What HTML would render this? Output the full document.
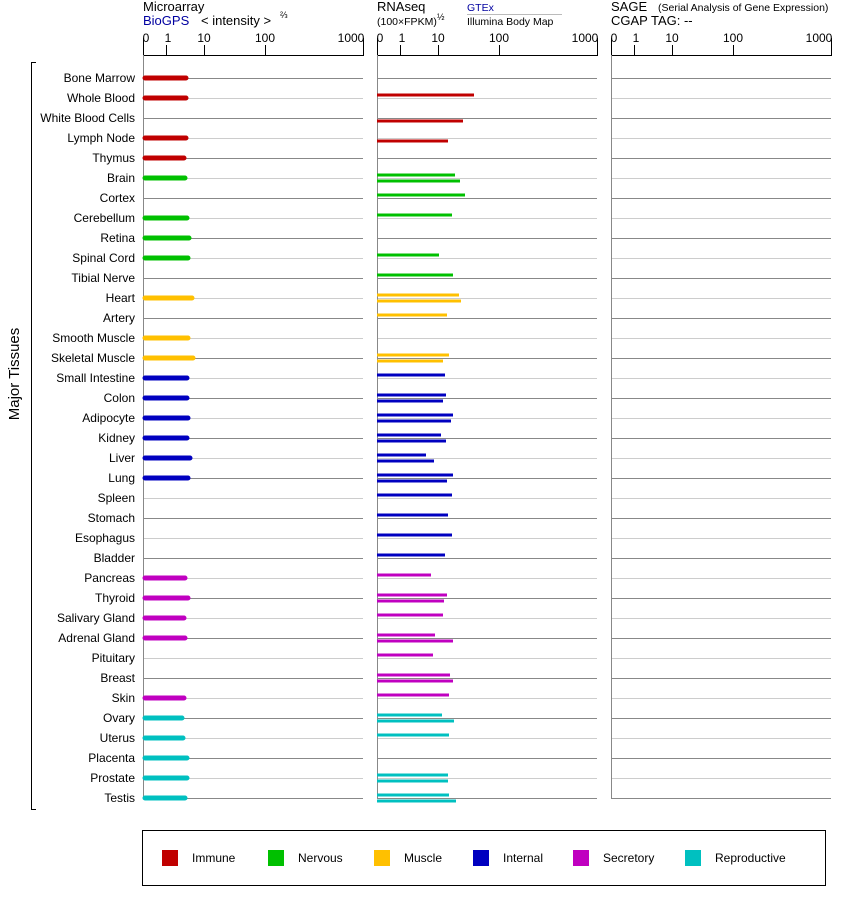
<!DOCTYPE html>
<html><head><meta charset="utf-8"><style>
body{margin:0;background:#fff}
svg{display:block;font-family:"Liberation Sans",Arial,sans-serif}
.l{font-size:12px;text-anchor:end;fill:#000}
.t{text-anchor:middle}
</style></head><body>
<svg width="842" height="900" viewBox="0 0 842 900" xmlns="http://www.w3.org/2000/svg">
<text x="143" y="11" font-size="13">Microarray</text>
<text x="143" y="25" font-size="13" fill="#0000a0">BioGPS</text>
<text x="201" y="25" font-size="13">&lt; intensity &gt;</text>
<text x="280" y="18" font-size="9">⅔</text>
<text x="377" y="11" font-size="13">RNAseq</text>
<text x="377" y="25" font-size="10.5">(100×FPKM)</text>
<text x="437" y="20" font-size="9">½</text>
<text x="467" y="11" font-size="10.5" fill="#0000a0">GTEx</text>
<line x1="467" y1="14.5" x2="562" y2="14.5" stroke="#bbb"/>
<text x="467" y="25" font-size="10.5">Illumina Body Map</text>
<text x="611" y="11" font-size="13">SAGE</text>
<text x="658" y="11" font-size="10.5">(Serial Analysis of Gene Expression)</text>
<text x="611" y="25" font-size="13">CGAP TAG:  --</text>
<g fill="none" stroke="#000">
<path d="M143.5 38V55.5H363.5V38M166.5 45V55.5M204.5 45V55.5M265.5 45V55.5"/>
<path d="M377.5 38V55.5H597.5V38M400.5 45V55.5M438.5 45V55.5M499.5 45V55.5"/>
<path d="M611.5 38V55.5H831.5V38M634.5 45V55.5M672.5 45V55.5M733.5 45V55.5"/>
</g>
<g class="t" font-size="12">
<text x="146" y="42">0</text><text x="168" y="42">1</text><text x="204" y="42">10</text><text x="265" y="42">100</text><text x="351" y="42">1000</text>
<text x="380" y="42">0</text><text x="402" y="42">1</text><text x="438" y="42">10</text><text x="499" y="42">100</text><text x="585" y="42">1000</text>
<text x="614" y="42">0</text><text x="636" y="42">1</text><text x="672" y="42">10</text><text x="733" y="42">100</text><text x="819" y="42">1000</text>
</g>
<g stroke-width="1">
<g stroke="#888">
<path d="M143 78.5H363M377 78.5H597M611 78.5H831M143 118.5H363M377 118.5H597M611 118.5H831M143 158.5H363M377 158.5H597M611 158.5H831M143 198.5H363M377 198.5H597M611 198.5H831M143 238.5H363M377 238.5H597M611 238.5H831M143 278.5H363M377 278.5H597M611 278.5H831M143 318.5H363M377 318.5H597M611 318.5H831M143 358.5H363M377 358.5H597M611 358.5H831M143 398.5H363M377 398.5H597M611 398.5H831M143 438.5H363M377 438.5H597M611 438.5H831M143 478.5H363M377 478.5H597M611 478.5H831M143 518.5H363M377 518.5H597M611 518.5H831M143 558.5H363M377 558.5H597M611 558.5H831M143 598.5H363M377 598.5H597M611 598.5H831M143 638.5H363M377 638.5H597M611 638.5H831M143 678.5H363M377 678.5H597M611 678.5H831M143 718.5H363M377 718.5H597M611 718.5H831M143 758.5H363M377 758.5H597M611 758.5H831M143 798.5H363M377 798.5H597M611 798.5H831"/>
</g>
<g stroke="#ccc">
<path d="M143 98.5H363M377 98.5H597M611 98.5H831M143 138.5H363M377 138.5H597M611 138.5H831M143 178.5H363M377 178.5H597M611 178.5H831M143 218.5H363M377 218.5H597M611 218.5H831M143 258.5H363M377 258.5H597M611 258.5H831M143 298.5H363M377 298.5H597M611 298.5H831M143 338.5H363M377 338.5H597M611 338.5H831M143 378.5H363M377 378.5H597M611 378.5H831M143 418.5H363M377 418.5H597M611 418.5H831M143 458.5H363M377 458.5H597M611 458.5H831M143 498.5H363M377 498.5H597M611 498.5H831M143 538.5H363M377 538.5H597M611 538.5H831M143 578.5H363M377 578.5H597M611 578.5H831M143 618.5H363M377 618.5H597M611 618.5H831M143 658.5H363M377 658.5H597M611 658.5H831M143 698.5H363M377 698.5H597M611 698.5H831M143 738.5H363M377 738.5H597M611 738.5H831M143 778.5H363M377 778.5H597M611 778.5H831"/>
</g>
<path d="M143.5 55V799M377.5 55V799M611.5 55V799" stroke="#888"/>
</g>
<g class="l">
<text x="135" y="82">Bone Marrow</text><text x="135" y="102">Whole Blood</text><text x="135" y="122">White Blood Cells</text><text x="135" y="142">Lymph Node</text><text x="135" y="162">Thymus</text>
<text x="135" y="182">Brain</text><text x="135" y="202">Cortex</text><text x="135" y="222">Cerebellum</text><text x="135" y="242">Retina</text><text x="135" y="262">Spinal Cord</text><text x="135" y="282">Tibial Nerve</text>
<text x="135" y="302">Heart</text><text x="135" y="322">Artery</text><text x="135" y="342">Smooth Muscle</text><text x="135" y="362">Skeletal Muscle</text>
<text x="135" y="382">Small Intestine</text><text x="135" y="402">Colon</text><text x="135" y="422">Adipocyte</text><text x="135" y="442">Kidney</text><text x="135" y="462">Liver</text><text x="135" y="482">Lung</text><text x="135" y="502">Spleen</text><text x="135" y="522">Stomach</text><text x="135" y="542">Esophagus</text><text x="135" y="562">Bladder</text>
<text x="135" y="582">Pancreas</text><text x="135" y="602">Thyroid</text><text x="135" y="622">Salivary Gland</text><text x="135" y="642">Adrenal Gland</text><text x="135" y="662">Pituitary</text><text x="135" y="682">Breast</text><text x="135" y="702">Skin</text>
<text x="135" y="722">Ovary</text><text x="135" y="742">Uterus</text><text x="135" y="762">Placenta</text><text x="135" y="782">Prostate</text><text x="135" y="802">Testis</text>
</g>
<path d="M36 62.5H31.5V809.5H36" fill="none" stroke="#000"/>
<text transform="translate(19,374) rotate(-90)" font-size="15" text-anchor="middle">Major Tissues</text>
<g stroke-width="5" stroke-linecap="round">
<g stroke="#c00000"><path d="M145 78H186M145 98H186M145 138H186M145 158H184"/></g>
<g stroke="#00c000"><path d="M145 178H185M145 218H187M145 238H189M145 258H188"/></g>
<g stroke="#ffc000"><path d="M145 298H192M145 338H188M145 358H193"/></g>
<g stroke="#0000c0"><path d="M145 378H187M145 398H187M145 418H188M145 438H187M145 458H190M145 478H188"/></g>
<g stroke="#c000c0"><path d="M145 578H185M145 598H188M145 618H184M145 638H185M145 698H184"/></g>
<g stroke="#00c0c0"><path d="M145 718H182M145 738H183M145 758H187M145 778H187M145 798H185"/></g>
</g>
<g stroke-width="3">
<g stroke="#c00000"><path d="M377 95H474M377 121H463M377 141H448"/></g>
<g stroke="#00c000"><path d="M377 175H455M377 181H460M377 195H465M377 215H452M377 255H439M377 275H453"/></g>
<g stroke="#ffc000"><path d="M377 295H459M377 301H461M377 315H447M377 355H449M377 361H443"/></g>
<g stroke="#0000c0"><path d="M377 375H445M377 395H446M377 401H443M377 415H453M377 421H451M377 435H441M377 441H446M377 455H426M377 461H434M377 475H453M377 481H447M377 495H452M377 515H448M377 535H452M377 555H445"/></g>
<g stroke="#c000c0"><path d="M377 575H431M377 595H447M377 601H444M377 615H443M377 635H435M377 641H453M377 655H433M377 675H450M377 681H453M377 695H449"/></g>
<g stroke="#00c0c0"><path d="M377 715H442M377 721H454M377 735H449M377 775H448M377 781H448M377 795H449M377 801H456"/></g>
</g>
<rect x="142.5" y="830.5" width="683" height="55" fill="none" stroke="#000"/>
<g font-size="12">
<rect x="162" y="850" width="16" height="16" fill="#c00000"/><text x="192" y="862">Immune</text>
<rect x="268" y="850" width="16" height="16" fill="#00c000"/><text x="298" y="862">Nervous</text>
<rect x="374" y="850" width="16" height="16" fill="#ffc000"/><text x="404" y="862">Muscle</text>
<rect x="473" y="850" width="16" height="16" fill="#0000c0"/><text x="503" y="862">Internal</text>
<rect x="573" y="850" width="16" height="16" fill="#c000c0"/><text x="603" y="862">Secretory</text>
<rect x="685" y="850" width="16" height="16" fill="#00c0c0"/><text x="715" y="862">Reproductive</text>
</g>
</svg>
</body></html>
